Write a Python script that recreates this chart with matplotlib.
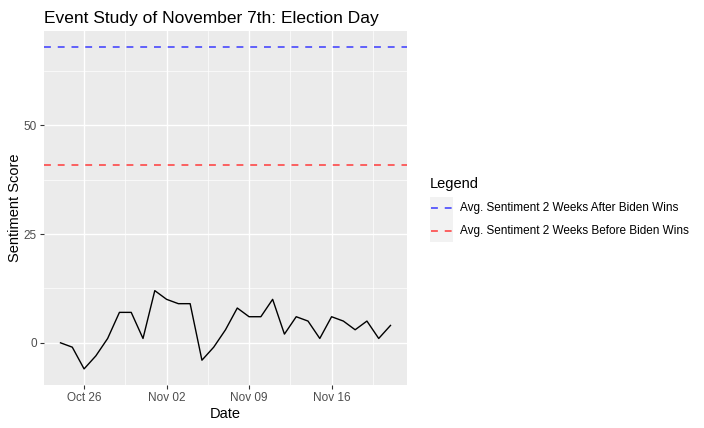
import pandas as pd
import matplotlib
matplotlib.use('Agg')
import matplotlib.pyplot as plt
import matplotlib.dates as mdates
from matplotlib.lines import Line2D
from matplotlib.patches import Rectangle

plt.rcParams['font.family'] = ['Liberation Sans', 'DejaVu Sans']

# daily sentiment, Oct 24 - Nov 21
dates = pd.date_range('2020-10-24', '2020-11-21', freq='D')
sentiment = [0, -1, -6, -3, 1, 7, 7, 1, 12, 10, 9, 9, -4, -1, 3, 8, 6, 6,
             10, 2, 6, 5, 1, 6, 5, 3, 5, 1, 4]

avg_after = 68
avg_before = 41
legend_labels = ['Avg. Sentiment 2 Weeks After Biden Wins',
                 'Avg. Sentiment 2 Weeks Before Biden Wins']
legend_colors = ['#3A3AFF', '#FF3A3A']

W, H = 704, 428
fig = plt.figure(figsize=(W / 100, H / 100), dpi=100)
ax = fig.add_axes([44 / W, 1 - 385 / H, (407 - 44) / W, (385 - 31) / H])
ax.set_facecolor('#EBEBEB')
for s in ax.spines.values():
    s.set_visible(False)

# grid, ggplot style
major_x = pd.to_datetime(['2020-10-26', '2020-11-02', '2020-11-09', '2020-11-16'])
minor_x = pd.to_datetime(['2020-10-22 12:00', '2020-10-29 12:00', '2020-11-05 12:00',
                          '2020-11-12 12:00', '2020-11-19 12:00'])
ax.set_xticks(major_x)
ax.set_xticks(minor_x, minor=True)
ax.set_yticks([0, 25, 50])
ax.set_yticks([12.5, 37.5, 62.5], minor=True)
ax.grid(which='major', color='white', linewidth=1.0)
ax.grid(which='minor', color='white', linewidth=0.5)
ax.set_axisbelow(True)
ax.xaxis.set_major_formatter(mdates.DateFormatter('%b %d'))
ax.tick_params(which='major', length=3, width=0.8, color='#333333',
               labelcolor='#4D4D4D', labelsize=8.5, pad=2)
ax.tick_params(which='minor', length=0)

ax.plot(dates, sentiment, color='black', linewidth=1.0)
ax.axhline(avg_after, color=legend_colors[0], linewidth=1.1, dashes=(4.5, 4.5))
ax.axhline(avg_before, color=legend_colors[1], linewidth=1.1, dashes=(4.5, 4.5))

span = (dates[-1] - dates[0]) * 0.05
ax.set_xlim(dates[0] - span, dates[-1] + span)
lo, hi = min(sentiment), avg_after
ax.set_ylim(lo - 0.05 * (hi - lo), hi + 0.05 * (hi - lo))

ax.set_xlabel('Date', fontsize=10.5, labelpad=2)
ax.set_ylabel('Sentiment Score', fontsize=10.5, labelpad=1)
ax.set_title('Event Study of November 7th: Election Day', fontsize=12.5,
             loc='left', pad=6)

# legend drawn by hand to mimic ggplot keys
fig.text(430 / W, 1 - 184 / H, 'Legend', fontsize=10.5, va='center', ha='left')
for i, (lab, col) in enumerate(zip(legend_labels, legend_colors)):
    yc = 208 + i * 23
    fig.patches.append(Rectangle((430 / W, 1 - (yc + 11.5) / H), 23 / W, 23 / H,
                                 transform=fig.transFigure, facecolor='#F2F2F2',
                                 edgecolor='none'))
    fig.add_artist(Line2D([431 / W, 452 / W], [1 - yc / H, 1 - yc / H],
                          color=col, linewidth=1.1, dashes=(4.5, 4.5)))
    fig.text(460 / W, 1 - yc / H, lab, fontsize=8.5, va='center', ha='left')

fig.savefig('out.png', dpi=100)
